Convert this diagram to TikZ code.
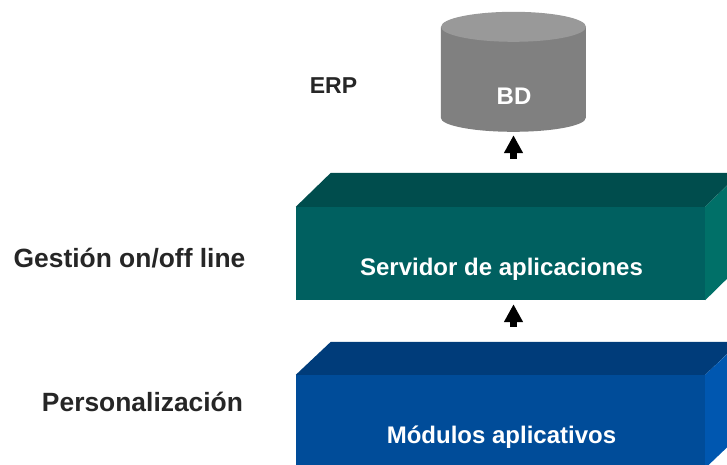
\documentclass[tikz,border=0pt]{standalone}
\usepackage{fontspec}
\setmainfont{Liberation Sans}
\usetikzlibrary{arrows.meta,positioning}
\definecolor{srvfront}{HTML}{006060}
\definecolor{srvtop}{HTML}{004D4D}
\definecolor{srvside}{HTML}{007068}
\definecolor{modfront}{HTML}{004C99}
\definecolor{modtop}{HTML}{003C7A}
\definecolor{modside}{HTML}{0057B0}
\definecolor{bdfront}{HTML}{808080}
\definecolor{bdtop}{HTML}{999999}
\begin{document}
\begin{tikzpicture}
[x=1pt, y=-1pt, 
layer/.style={inner sep=0pt, minimum width=409pt, minimum height=93pt},
whitetext/.style={text=white, font=\fontsize{24}{28}\selectfont\bfseries, inner sep=0pt},
sidetext/.style={text=black!85, font=\fontsize{26.4}{30}\selectfont\bfseries, inner sep=0pt},
uparrow/.style={-{Triangle[length=18pt,width=18pt]}, line width=7pt, shorten >=3pt, shorten <=48pt}
]
  \clip (0,0) rectangle (727,464);
  \path[use as bounding box] (0,0) rectangle (727,464);

  \node[layer, fill=srvfront] (srv) at (500.5,253.5) {};
  \node[layer, fill=modfront] (mod) at (500.5,421.5) {};
  \node[minimum width=145pt, minimum height=120pt, inner sep=0pt] (bd) at (513.5,72) {};

  % caras superior y lateral
  \fill[srvtop] (srv.north west) -- ++(35,-34) -- ++(409,0) -- (srv.north east) -- cycle;
  \fill[srvside] (srv.north east) -- ++(35,-34) -- ++(0,93) -- (srv.south east) -- cycle;
  \fill[modtop] (mod.north west) -- ++(35,-33) -- ++(409,0) -- (mod.north east) -- cycle;
  \fill[modside] (mod.north east) -- ++(35,-33) -- ++(0,93) -- (mod.south east) -- cycle;

  % cilindro
  \fill[bdfront] (bd.north west) ++(0,15) -- ++(0,91)
    arc[start angle=180, end angle=360, x radius=72.5pt, y radius=14pt] -- ++(0,-91) -- cycle;
  \fill[bdtop] (bd.north) ++(0,15) ellipse[x radius=72.5pt, y radius=15pt];

  \node[whitetext] (bdtext) at (514,96) {BD};
  \node[whitetext] (srvtext) at (501.5,269.5) {Servidor de aplicaciones};
  \node[whitetext] (modtext) at (501.5,437.5) {Módulos aplicativos};
  \node[sidetext, font=\fontsize{23}{28}\selectfont\bfseries] (erp) at (333.5,86) {ERP};
  \node[sidetext] (gestion) at (129.5,258) {Gestión on/off line};
  \node[sidetext] (person) at (142.5,402) {Personalización};

  \draw[uparrow] (srv.north -| bd.south) -- (bd.south);
  \draw[uparrow, shorten >=4pt] (mod.north -| bd.south) -- (srv.south -| bd.south);
\end{tikzpicture}
\end{document}
